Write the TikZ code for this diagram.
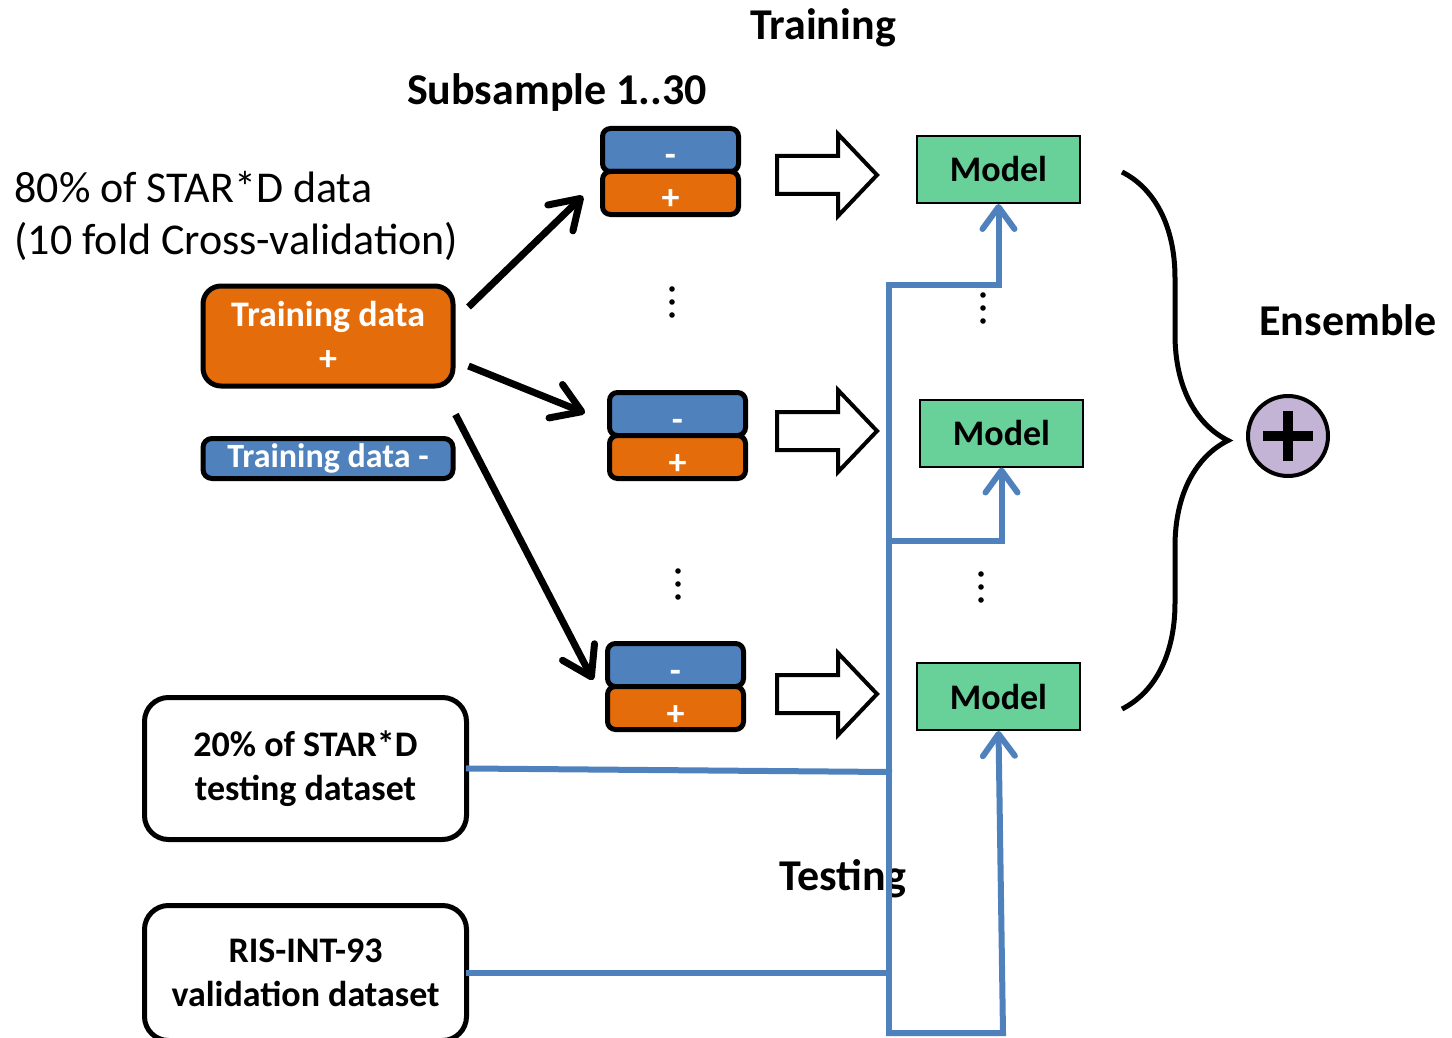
\documentclass[tikz,border=0pt]{standalone}
\usepackage{fontspec}
\setmainfont{Carlito}
\usetikzlibrary{positioning,calc,arrows.meta,decorations.pathreplacing}

\definecolor{trainorange}{RGB}{228,108,10}
\definecolor{trainblue}{RGB}{79,129,189}
\definecolor{modelgreen}{RGB}{104,208,153}
\definecolor{ensemblepurple}{RGB}{195,180,214}

\tikzset{
  labelfont/.style={font=\bfseries\fontsize{18}{22}\selectfont},
  databox/.style={draw=black, line width=2.5pt, rounded corners=9pt, text=white, align=center, inner sep=0pt, labelfont},
  posbox/.style={databox, fill=trainorange},
  negbox/.style={databox, fill=trainblue, rounded corners=4.5pt, font=\bfseries\fontsize{17}{21}\selectfont},
  halfbox/.style={draw=black, line width=2.5pt, rounded corners=4pt, text=white, inner sep=0pt, minimum width=68pt, minimum height=21.5pt, text height=17pt, text depth=0pt, labelfont},
  modelbox/.style={draw=black, line width=1pt, fill=modelgreen, minimum width=81.5pt, minimum height=33.5pt, labelfont},
  setbox/.style={draw=black, line width=2.5pt, rounded corners=12pt, fill=white, align=center, minimum width=161pt, minimum height=71pt, labelfont},
  heading/.style={font=\bfseries\fontsize{22}{26}\selectfont},
  subarrow/.style={line width=3.5pt, -{Straight Barb[length=14pt,width=18pt,round]}},
  testline/.style={trainblue, line width=3pt, line cap=rect},
  feedline/.style={testline, -{Straight Barb[length=11pt,width=16pt,round]}},
}

\begin{document}
\begin{tikzpicture}[x=0.5pt,y=-0.5pt]
    \useasboundingbox (0,0) rectangle (1452,1038);

    % titles
    \node [heading] (train) at (823,28) {Training};
    \node [heading] (subs) at (557,93) {Subsample 1..30};
    \node [heading] (ensl) at (1348,320) {Ensemble};
    \node [heading] (test) at (843,879) {Testing};
    \node [anchor=west, align=left, inner sep=0pt, font=\fontsize{22}{26}\selectfont] (share) at (14,216) {80\% of STAR*D data\\(10 fold Cross-validation)};

    % training data
    \node [posbox, minimum width=125pt, minimum height=50pt] (tplus) at (328,336) {Training data\\+};
    \node [negbox, minimum width=125pt, minimum height=20pt] (tminus) at (328,458.5) {Training data -};

    % subsamples
    \node [halfbox, fill=trainblue] (s1m) at (670.5,150) {-};
    \node [halfbox, fill=trainorange, below=-2.5pt of s1m] (s1p) {+};
    \node [halfbox, fill=trainblue] (s2m) at (677.5,414) {-};
    \node [halfbox, fill=trainorange, below=-2.5pt of s2m] (s2p) {+};
    \node [halfbox, fill=trainblue] (s3m) at (675.5,665) {-};
    \node [halfbox, fill=trainorange, below=-2.5pt of s3m] (s3p) {+};

    \draw [subarrow] ($(tplus.east)+(13,-29)$) -- ($(s1p.west)+(-17,3)$);
    \draw [subarrow] ($(tplus.east)+(13,30)$) -- ($(s2m.west)+(-22,-1)$);
    \draw [subarrow] ($(tplus.south east)+(0,26)$) -- ($(s3p.north west)+(-12,-4)$);

    % models
    \node [modelbox] (m1) at (998.5,169.5) {Model};
    \node [modelbox] (m2) at (1001.5,433) {Model};
    \node [modelbox] (m3) at (998.5,696.5) {Model};

    \foreach \y in {175,431,694}
        \draw [line width=2pt, fill=white] (777,\y-19) -- (838,\y-19) -- (838,\y-41) -- (877,\y)
            -- (838,\y+41) -- (838,\y+19) -- (777,\y+19) -- cycle;

    \foreach \x/\y in {672/302, 678/584, 983/308, 981/587}
        \foreach \d in {-13,0,13}
            \fill (\x,\y+\d) circle [radius=1.4pt];

    % ensemble
    \draw [decorate, decoration={brace, amplitude=53pt}, line width=2.5pt] (1122,172) -- (1122,709);
    \node [circle, draw, line width=2pt, fill=ensemblepurple, minimum size=40pt, inner sep=0pt] (ens) at (1288,436) {};
    \draw [line width=5pt] ($(ens.center)+(-25,0)$) -- ($(ens.center)+(25,0)$);
    \draw [line width=5pt] ($(ens.center)+(0,-25)$) -- ($(ens.center)+(0,25)$);

    % testing
    \node [setbox] (testset) at (305.5,768.5) {20\% of STAR*D\\testing dataset};
    \node [setbox, minimum height=67.5pt] (valset) at (305.5,973) {RIS-INT-93\\validation dataset};

    \coordinate (busTop) at (889,285);
    \coordinate (busMid) at (889,541);
    \coordinate (busTest) at (889,772);
    \coordinate (busVal) at (889,973);
    \coordinate (busBot) at (889,1033);
    \draw [testline] (testset.east) -- (busTest);
    \draw [testline] (valset.east) -- (busVal);
    \draw [testline] (busTop) -- (busBot);
    \draw [feedline] (busTop) -| (m1.south);
    \draw [feedline] (busMid) -| (m2.south);
    \draw [feedline] (busBot) -- ++(114,0) -- (m3.south);
\end{tikzpicture}
\end{document}
